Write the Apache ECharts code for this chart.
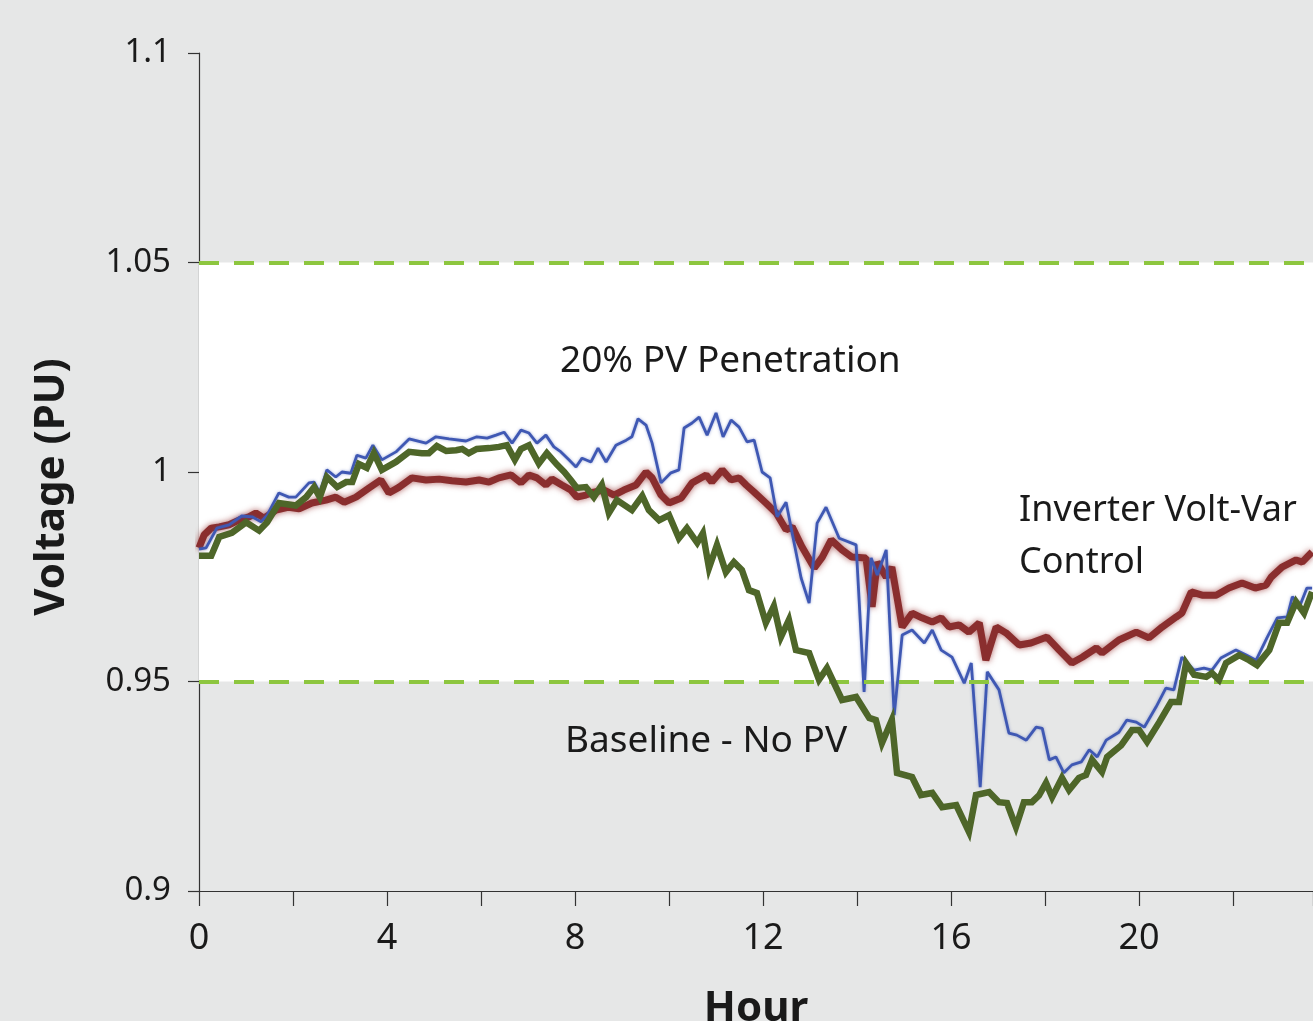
<!DOCTYPE html>
<html>
    <head>
        <meta charset="utf-8">
        <title>Voltage (PU)</title>
        <style>
            html, body { margin: 0; padding: 0; background: #e6e7e7; }
            #voltChart { width: 1313px; height: 1021px; }
        </style>
    </head>
    <body>
        <div id="voltChart"></div>
        <script type="text/javascript" src="https://cdn.jsdelivr.net/npm/echarts@6/dist/echarts.min.js"></script>
        <script type="text/javascript">
            // x ticks (hours) and y ticks (PU)
            var hourTicks = [0, 4, 8, 12, 16, 20];
            var voltTicks = [0.9, 0.95, 1, 1.05, 1.1];
            var limitLow = 0.95;
            var limitHigh = 1.05;

            // Baseline - No PV
            var baseHours = [0, 0.26, 0.43, 0.70, 1.00, 1.28, 1.45, 1.70, 2.06, 2.28, 2.45, 2.57, 2.72, 2.94, 3.13, 3.26, 3.40, 3.57, 3.72, 3.89,
                4.19, 4.47, 4.74, 4.89, 5.06, 5.26, 5.47, 5.60, 5.74, 5.91, 6.17, 6.38, 6.55, 6.72, 6.85, 7.02, 7.23, 7.40, 7.62, 7.77,
                7.91, 8.04, 8.23, 8.40, 8.57, 8.72, 8.89, 9.21, 9.43, 9.57, 9.79, 10.00, 10.21, 10.38, 10.60, 10.72, 10.85, 11.02, 11.21, 11.38,
                11.55, 11.70, 11.87, 12.06, 12.23, 12.38, 12.55, 12.70, 12.98, 13.19, 13.36, 13.68, 13.98, 14.26, 14.40, 14.53, 14.74, 14.85, 15.17, 15.36,
                15.60, 15.81, 16.11, 16.38, 16.53, 16.81, 17.02, 17.19, 17.38, 17.55, 17.72, 17.87, 18.02, 18.15, 18.36, 18.51, 18.72, 18.87, 19.00, 19.21,
                19.32, 19.62, 19.85, 20.00, 20.17, 20.43, 20.68, 20.85, 21.00, 21.17, 21.43, 21.55, 21.70, 21.85, 22.13, 22.34, 22.51, 22.77, 22.98, 23.15,
                23.34, 23.51, 23.68];
            var baseVolts = [0.980, 0.980, 0.9845, 0.9855, 0.988, 0.986, 0.988, 0.9926, 0.992, 0.994, 0.9964, 0.994, 0.9988, 0.9964, 0.9976, 0.9976, 1.0019, 1.001, 1.0045, 1.0005,
                1.0024, 1.0048, 1.0045, 1.0045, 1.0062, 1.005, 1.0052, 1.0055, 1.0045, 1.0055, 1.0057, 1.006, 1.0064, 1.0029, 1.0055, 1.0064, 1.002, 1.0045, 1.0017, 1.0,
                0.9981, 0.9962, 0.9964, 0.994, 0.9969, 0.9902, 0.9933, 0.9909, 0.9943, 0.9909, 0.9885, 0.9897, 0.9842, 0.9866, 0.9831, 0.9854, 0.9771, 0.9826, 0.9761, 0.9785,
                0.9766, 0.9718, 0.9711, 0.964, 0.968, 0.9606, 0.9647, 0.9575, 0.9568, 0.9504, 0.9532, 0.9456, 0.9463, 0.9413, 0.9408, 0.9353, 0.9408, 0.9282, 0.9272, 0.9229,
                0.9234, 0.920, 0.9205, 0.9141, 0.9229, 0.9236, 0.9212, 0.921, 0.9153, 0.9212, 0.9212, 0.9228, 0.9258, 0.9224, 0.927, 0.9241, 0.927, 0.9277, 0.9313, 0.9284,
                0.932, 0.9348, 0.9384, 0.9384, 0.9356, 0.9403, 0.9451, 0.9451, 0.9544, 0.9516, 0.9511, 0.952, 0.9504, 0.9544, 0.9563, 0.9551, 0.9539, 0.9575, 0.964, 0.964,
                0.969, 0.9663, 0.9714];

            // 20% PV Penetration
            var pvHours = [0, 0.15, 0.38, 0.64, 0.91, 1.13, 1.32, 1.45, 1.70, 1.91, 2.06, 2.34, 2.45, 2.57, 2.72, 2.91, 3.04, 3.23, 3.36, 3.55,
                3.70, 3.89, 4.19, 4.47, 4.83, 5.04, 5.32, 5.68, 5.91, 6.13, 6.32, 6.49, 6.66, 6.85, 7.02, 7.19, 7.38, 7.55, 7.70, 7.87,
                8.02, 8.15, 8.34, 8.49, 8.66, 8.87, 9.09, 9.21, 9.34, 9.51, 9.64, 9.83, 10.04, 10.21, 10.32, 10.49, 10.64, 10.81, 11.00, 11.15,
                11.32, 11.49, 11.66, 11.81, 11.98, 12.15, 12.30, 12.49, 12.62, 12.81, 12.98, 13.15, 13.34, 13.62, 13.98, 14.15, 14.30, 14.43, 14.62, 14.79,
                14.96, 15.17, 15.43, 15.60, 15.79, 16.02, 16.28, 16.43, 16.62, 16.77, 17.02, 17.23, 17.40, 17.60, 17.81, 17.94, 18.09, 18.23, 18.40, 18.57,
                18.77, 18.94, 19.11, 19.30, 19.57, 19.74, 19.94, 20.11, 20.36, 20.57, 20.74, 20.91, 21.17, 21.38, 21.55, 21.74, 22.06, 22.28, 22.49, 22.72,
                22.94, 23.15, 23.26, 23.43, 23.57, 23.68];
            var pvVolts = [0.9816, 0.9819, 0.9866, 0.9874, 0.9895, 0.9893, 0.9881, 0.9897, 0.995, 0.994, 0.994, 0.9974, 0.9976, 0.995, 1.0005, 0.9988, 1.0, 0.9997, 1.004, 1.0033,
                1.0064, 1.0029, 1.0048, 1.0079, 1.0069, 1.0084, 1.0079, 1.0074, 1.0084, 1.0081, 1.0088, 1.0095, 1.0069, 1.010, 1.0093, 1.0069, 1.0088, 1.006, 1.0048, 1.0029,
                1.0012, 1.0033, 1.0024, 1.0057, 1.0024, 1.0064, 1.0076, 1.0084, 1.0127, 1.0112, 1.0069, 0.9974, 0.9998, 1.0005, 1.0105, 1.0117, 1.0131, 1.0088, 1.0141, 1.0084,
                1.0124, 1.0107, 1.0072, 1.0076, 1.0, 0.9986, 0.9893, 0.9928, 0.9854, 0.9747, 0.9687, 0.9878, 0.9916, 0.9842, 0.9826, 0.9475, 0.9795, 0.9754, 0.9814, 0.942,
                0.9611, 0.9623, 0.9592, 0.9623, 0.9575, 0.9558, 0.9496, 0.9544, 0.9248, 0.9523, 0.948, 0.9377, 0.9372, 0.936, 0.9391, 0.9388, 0.9313, 0.932, 0.9282, 0.9301,
                0.9308, 0.9337, 0.932, 0.936, 0.9379, 0.9408, 0.9403, 0.9391, 0.9439, 0.9484, 0.948, 0.9558, 0.9527, 0.9532, 0.9527, 0.9556, 0.9575, 0.9563, 0.9551, 0.9604,
                0.9652, 0.9654, 0.9702, 0.9683, 0.9723, 0.9723];

            // Inverter Volt-Var Control
            var vvHours = [0, 0.11, 0.26, 0.43, 0.64, 0.85, 1.06, 1.21, 1.38, 1.64, 1.91, 2.13, 2.40, 2.70, 2.91, 3.09, 3.34, 3.62, 3.87, 4.04,
                4.26, 4.53, 4.83, 5.11, 5.38, 5.68, 5.96, 6.17, 6.38, 6.64, 6.85, 7.02, 7.19, 7.38, 7.51, 7.72, 7.91, 8.04, 8.23, 8.40,
                8.62, 8.83, 9.04, 9.30, 9.51, 9.64, 9.83, 10.00, 10.26, 10.49, 10.79, 10.91, 11.13, 11.32, 11.49, 11.64, 11.81, 12.06, 12.28, 12.49,
                12.62, 12.83, 13.09, 13.26, 13.45, 13.68, 13.89, 14.19, 14.32, 14.43, 14.62, 14.74, 14.96, 15.17, 15.38, 15.60, 15.79, 15.96, 16.17, 16.38,
                16.60, 16.74, 16.96, 17.17, 17.45, 17.70, 18.04, 18.30, 18.57, 18.79, 19.09, 19.21, 19.57, 19.94, 20.21, 20.49, 20.79, 20.91, 21.11, 21.34,
                21.64, 21.91, 22.19, 22.47, 22.70, 22.81, 23.04, 23.34, 23.47, 23.68];
            var vvVolts = [0.9819, 0.985, 0.9866, 0.9869, 0.9874, 0.9885, 0.9893, 0.9902, 0.989, 0.9909, 0.9916, 0.9912, 0.9926, 0.9933, 0.994, 0.9928, 0.994, 0.9962, 0.9981, 0.995,
                0.9964, 0.9986, 0.9981, 0.9983, 0.9979, 0.9976, 0.9981, 0.9976, 0.9986, 0.9993, 0.9974, 0.9993, 0.9986, 0.9969, 0.9983, 0.9969, 0.9957, 0.994, 0.9945, 0.9952,
                0.9957, 0.9945, 0.9957, 0.9969, 1.0, 0.9986, 0.9945, 0.9926, 0.9938, 0.9974, 0.9993, 0.9976, 1.0005, 0.9981, 0.9986, 0.9969, 0.9952, 0.9926, 0.9902, 0.9862,
                0.9869, 0.9821, 0.9771, 0.9797, 0.9838, 0.9814, 0.9797, 0.9795, 0.9678, 0.9785, 0.9749, 0.9773, 0.963, 0.9663, 0.9652, 0.9642, 0.9652, 0.963, 0.9635, 0.9618,
                0.964, 0.9551, 0.963, 0.9616, 0.9587, 0.9592, 0.9606, 0.9575, 0.9544, 0.9558, 0.958, 0.9568, 0.9599, 0.9618, 0.9604, 0.963, 0.9654, 0.9663, 0.9714, 0.9706,
                0.9706, 0.9723, 0.9735, 0.9723, 0.973, 0.9749, 0.9773, 0.979, 0.9785, 0.9809];

            function zip(xs, ys) {
                var out = [];
                for (var i = 0; i < xs.length; i++) {
                    out.push([xs[i], ys[i]]);
                }
                return out;
            }

            var textFont = '"Noto Sans", "Open Sans", sans-serif';
            var dom = document.getElementById("voltChart");
            var myChart = echarts.init(dom, null, { renderer: 'canvas' });

            var option = {
                backgroundColor: '#e6e7e7',
                animation: false,
                grid: {
                    left: 199,
                    right: 0,
                    top: 53,
                    bottom: 130,
                    containLabel: false,
                    outerBoundsMode: 'none'
                },
                xAxis: {
                    type: 'value',
                    min: 0,
                    max: 23.7,
                    interval: 2,
                    name: 'Hour',
                    nameLocation: 'middle',
                    nameGap: 97,
                    nameTextStyle: { fontFamily: textFont, fontSize: 42, fontWeight: 'bold', color: '#1a1a1a' },
                    axisLine: { lineStyle: { color: '#333', width: 1.2 } },
                    axisTick: { show: true, length: 15, lineStyle: { color: '#333', width: 1.2 } },
                    splitLine: { show: false },
                    axisLabel: {
                        margin: 30,
                        fontFamily: textFont,
                        fontSize: 36,
                        color: '#1a1a1a',
                        formatter: function (v) {
                            return hourTicks.indexOf(v) >= 0 ? String(v) : '';
                        }
                    }
                },
                yAxis: {
                    type: 'value',
                    min: 0.9,
                    max: 1.1,
                    interval: 0.05,
                    name: 'Voltage (PU)',
                    nameLocation: 'middle',
                    nameRotate: 90,
                    nameGap: 126,
                    nameTextStyle: { fontFamily: textFont, fontSize: 42, fontWeight: 'bold', color: '#1a1a1a', padding: [0, 30, 0, 0] },
                    axisLine: { show: true, lineStyle: { color: '#333', width: 1.2 } },
                    axisTick: { show: true, length: 11, lineStyle: { color: '#333', width: 1.2 } },
                    splitLine: { show: false },
                    axisLabel: {
                        margin: 28,
                        fontFamily: textFont,
                        fontSize: 33,
                        color: '#1a1a1a',
                        formatter: function (v) {
                            for (var i = 0; i < voltTicks.length; i++) {
                                if (Math.abs(voltTicks[i] - v) < 1e-6) return String(voltTicks[i]);
                            }
                            return '';
                        }
                    }
                },
                series: [
                    {
                        name: 'Inverter Volt-Var Control',
                        type: 'line',
                        data: zip(vvHours, vvVolts),
                        showSymbol: false,
                        z: 3,
                        lineStyle: {
                            color: '#8a2e2e',
                            width: 7,
                            shadowBlur: 6,
                            shadowColor: 'rgba(150, 50, 50, 0.75)'
                        },
                        markArea: {
                            silent: true,
                            z: 1,
                            itemStyle: { color: '#ffffff' },
                            data: [[{ yAxis: limitLow }, { yAxis: limitHigh }]]
                        },
                        markLine: {
                            silent: true,
                            symbol: 'none',
                            label: { show: false },
                            lineStyle: { color: '#8dc63f', width: 4, type: [20, 15] },
                            data: [{ yAxis: limitLow }, { yAxis: limitHigh }]
                        }
                    },
                    {
                        name: '20% PV Penetration',
                        type: 'line',
                        data: zip(pvHours, pvVolts),
                        showSymbol: false,
                        z: 4,
                        lineStyle: {
                            color: '#3f58b3',
                            width: 2.8,
                            shadowBlur: 3,
                            shadowColor: 'rgba(64, 89, 181, 0.5)'
                        }
                    },
                    {
                        name: 'Baseline - No PV',
                        type: 'line',
                        data: zip(baseHours, baseVolts),
                        showSymbol: false,
                        z: 5,
                        lineStyle: { color: '#4e6629', width: 6.5, join: 'miter' }
                    }
                ],
                graphic: [
                    { type: 'text', z: 50, left: 560, top: 343, style: { text: '20% PV Penetration', font: '37px ' + textFont, fill: '#1a1a1a' } },
                    { type: 'text', z: 50, left: 1019, top: 493, style: { text: 'Inverter Volt-Var', font: '36px ' + textFont, fill: '#1a1a1a' } },
                    { type: 'text', z: 50, left: 1019, top: 545, style: { text: 'Control', font: '36px ' + textFont, fill: '#1a1a1a' } },
                    { type: 'text', z: 50, left: 565, top: 723, style: { text: 'Baseline - No PV', font: '37px ' + textFont, fill: '#1a1a1a' } }
                ]
            };
            if (option && typeof option === "object") {
                myChart.setOption(option, true);
            }
        </script>
    </body>
</html>
